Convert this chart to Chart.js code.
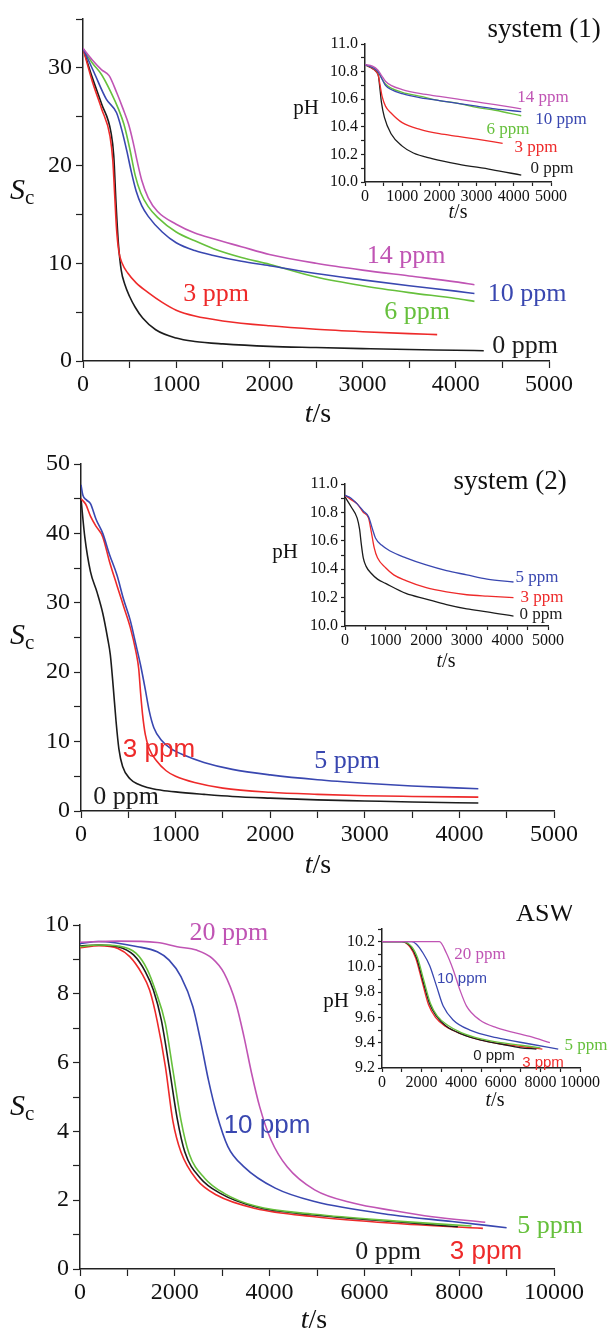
<!DOCTYPE html>
<html>
<head>
<meta charset="utf-8">
<script src="https://cdn.jsdelivr.net/npm/chart.js@4.4.1/dist/chart.umd.min.js"></script>
<style>
html, body { margin: 0; padding: 0; background: #fff; }
#page { position: relative; width: 613px; height: 1331px; overflow: hidden; background: #fff; }
#page canvas { position: absolute; }
</style>
</head>
<body>
<div id="page"></div>
<script>
// ---- system (1): Sc vs t/s, points are [t, Sc]
const s1_0ppm = [[0,32],[100,29],[200,26.3],[300,23.4],[330,21],[355,16],[380,12],[410,9.3],[450,7.8],[500,6.6],[560,5.5],[640,4.4],[780,3.2],[1000,2.35],[1200,2.0],[1500,1.75],[2000,1.5],[2500,1.38],[3000,1.27],[3500,1.17],[4000,1.1],[4300,1.05]];
const s1_3ppm = [[0,32],[100,28.6],[200,25.8],[290,23],[320,20.5],[340,17],[360,13.5],[385,11.2],[420,10],[480,9.0],[570,8.0],[700,7.0],[850,6.0],[1000,5.2],[1200,4.6],[1500,4.1],[2000,3.6],[2500,3.25],[3000,3.0],[3500,2.8],[3800,2.7]];
const s1_6ppm = [[0,32],[100,30.5],[200,29.3],[300,27.5],[380,25.8],[440,24.2],[500,21.8],[560,19],[620,17.2],[700,15.8],[800,14.7],[1000,13.2],[1200,12.3],[1400,11.5],[1700,10.6],[2000,9.9],[2500,8.6],[3000,7.7],[3500,7.0],[4000,6.4],[4200,6.1]];
const s1_10ppm = [[0,32],[120,29.5],[250,26.8],[360,25.4],[420,23.5],[470,21.5],[520,19.3],[570,17.4],[630,15.9],[700,14.8],[850,13.2],[1000,12.1],[1200,11.3],[1400,10.8],[1700,10.2],[2000,9.75],[2500,8.95],[3000,8.3],[3500,7.7],[4000,7.15],[4200,6.9]];
const s1_14ppm = [[0,32],[100,30.8],[200,29.8],[280,29.2],[360,27.5],[430,25.8],[490,24.2],[540,22.3],[580,20.5],[630,18.5],[700,16.7],[800,15.3],[1000,14.0],[1200,13.1],[1400,12.5],[1700,11.7],[2000,10.9],[2500,10.0],[3000,9.3],[3500,8.7],[4000,8.1],[4200,7.8]];

// system (1) inset: pH vs t/s
const ph1_0ppm = [[0,10.85],[150,10.83],[300,10.8],[360,10.77],[400,10.68],[440,10.58],[520,10.47],[700,10.35],[1000,10.26],[1300,10.21],[1800,10.17],[2500,10.13],[3400,10.09],[4200,10.05]];
const ph1_3ppm = [[0,10.85],[150,10.83],[300,10.8],[360,10.77],[400,10.71],[460,10.62],[550,10.55],[700,10.5],[1000,10.43],[1500,10.38],[2000,10.35],[2500,10.33],[3000,10.31],[3700,10.28]];
const ph1_6ppm = [[0,10.85],[200,10.83],[350,10.8],[450,10.75],[550,10.71],[700,10.68],[1000,10.65],[1500,10.62],[2000,10.59],[2500,10.57],[3000,10.54],[3500,10.52],[4200,10.48]];
const ph1_10ppm = [[0,10.85],[200,10.83],[350,10.8],[450,10.75],[550,10.7],[700,10.67],[1000,10.64],[1500,10.61],[2000,10.59],[2500,10.57],[3000,10.55],[3500,10.53],[4200,10.51]];
const ph1_14ppm = [[0,10.85],[200,10.84],[350,10.81],[450,10.77],[550,10.73],[700,10.7],[1000,10.67],[1500,10.64],[2000,10.62],[2500,10.6],[3000,10.58],[3500,10.56],[4200,10.53]];

// ---- system (2): Sc vs t/s
const s2_0ppm = [[0,45],[40,39.5],[100,34.5],[170,31.5],[230,28.5],[280,25],[310,22.5],[340,18],[370,13],[400,9],[440,6.4],[520,4.6],[600,3.9],[700,3.4],[850,3.0],[1000,2.75],[1300,2.4],[1600,2.1],[2000,1.85],[2500,1.6],[3000,1.45],[3500,1.3],[4200,1.15]];
const s2_3ppm = [[0,45],[50,44.2],[100,42.5],[160,41],[230,39.5],[300,36],[380,32.5],[450,29.5],[520,26.5],[580,23],[610,20.5],[630,17],[650,14],[680,11],[720,9],[800,7.2],[900,5.8],[1000,5.0],[1200,4.1],[1500,3.3],[2000,2.7],[2500,2.4],[3000,2.2],[3500,2.1],[4200,2.0]];
const s2_5ppm = [[0,47],[20,45.5],[60,44.8],[100,44.3],[160,42],[230,40],[300,37],[380,34],[450,30.5],[520,27.5],[580,24],[630,21],[680,17.5],[720,14.5],[770,12],[850,10.2],[950,9.0],[1100,8.0],[1300,7.0],[1600,6.0],[2000,5.2],[2500,4.5],[3000,4.0],[3500,3.6],[4200,3.2]];

// system (2) inset: pH vs t/s
const ph2_0ppm = [[0,10.91],[150,10.84],[300,10.76],[360,10.68],[400,10.58],[450,10.48],[520,10.42],[650,10.37],[800,10.33],[1000,10.3],[1500,10.23],[2000,10.19],[2500,10.15],[3000,10.12],[3500,10.1],[4150,10.07]];
const ph2_3ppm = [[0,10.92],[150,10.89],[300,10.86],[450,10.8],[580,10.76],[650,10.66],[720,10.55],[800,10.48],[1000,10.41],[1200,10.36],[1500,10.32],[2000,10.27],[2500,10.24],[3000,10.22],[3500,10.21],[4150,10.2]];
const ph2_5ppm = [[0,10.92],[150,10.9],[300,10.86],[450,10.81],[580,10.77],[680,10.68],[750,10.62],[900,10.57],[1100,10.53],[1500,10.48],[2000,10.43],[2500,10.39],[3000,10.36],[3500,10.33],[4150,10.31]];

// ---- ASW: Sc vs t/s
const s3_0ppm = [[0,9.39],[400,9.42],[800,9.37],[1130,9.13],[1380,8.64],[1550,8.1],[1715,7.24],[1880,5.88],[2050,4.38],[2210,3.41],[2540,2.64],[2960,2.2],[3700,1.81],[4950,1.57],[6600,1.38],[7970,1.23]];
const s3_3ppm = [[0,9.34],[400,9.4],[800,9.32],[1050,9.08],[1300,8.6],[1470,8.1],[1630,7.2],[1800,5.9],[1960,4.3],[2130,3.4],[2460,2.6],[2880,2.15],[3700,1.76],[4950,1.52],[6600,1.33],[8500,1.18]];
const s3_5ppm = [[0,9.37],[400,9.42],[800,9.39],[1180,9.18],[1425,8.69],[1590,8.1],[1800,7.14],[1960,5.78],[2130,4.33],[2300,3.36],[2630,2.64],[3040,2.2],[3700,1.83],[4950,1.59],[6600,1.4],[8260,1.25]];
const s3_10ppm = [[0,9.46],[390,9.52],[1220,9.37],[1630,9.22],[1880,8.98],[2130,8.5],[2380,7.63],[2540,6.66],[2710,5.49],[2880,4.53],[3120,3.56],[3460,2.97],[4120,2.35],[4950,1.96],[6600,1.57],[7850,1.38],[9000,1.2]];
const s3_20ppm = [[0,9.5],[800,9.53],[1630,9.49],[2050,9.37],[2460,9.27],[2790,9.03],[3040,8.6],[3290,7.72],[3460,6.75],[3620,5.69],[3790,4.72],[4030,3.75],[4370,2.97],[4950,2.3],[5780,1.91],[6600,1.7],[7430,1.52],[8550,1.36]];

// ASW inset: pH vs t/s
const ph3_0ppm = [[0,10.2],[1000,10.2],[1450,10.16],[1750,10.07],[2050,9.9],[2400,9.71],[2750,9.61],[3250,9.53],[4000,9.47],[5000,9.42],[6000,9.39],[7000,9.36],[7800,9.35]];
const ph3_3ppm = [[0,10.2],[1000,10.2],[1400,10.16],[1700,10.07],[2000,9.9],[2350,9.7],[2700,9.6],[3200,9.53],[4000,9.47],[5000,9.42],[6000,9.39],[7000,9.37],[8100,9.35]];
const ph3_5ppm = [[0,10.2],[1000,10.2],[1500,10.16],[1800,10.07],[2100,9.9],[2450,9.71],[2800,9.61],[3300,9.54],[4000,9.48],[5000,9.43],[6000,9.4],[7000,9.38],[8000,9.36]];
const ph3_10ppm = [[0,10.2],[1500,10.2],[1740,10.18],[2070,10.11],[2410,10.01],[2750,9.85],[3090,9.69],[3590,9.58],[4440,9.5],[5780,9.44],[7470,9.39],[8900,9.35]];
const ph3_20ppm = [[0,10.2],[2900,10.2],[3250,10.11],[3590,9.98],[3930,9.82],[4270,9.69],[4940,9.58],[5780,9.52],[7470,9.45],[8480,9.4]];

// colours
const BLACK = '#1c1c1c', RED = '#ee2a2a', GREEN = '#66c03c', BLUE = '#3947b0', MAGENTA = '#c054b4';
const AXIS = '#222';
const SERIF = "'Liberation Serif', 'Times New Roman', serif";
const SANS = "'Liberation Sans', Arial, sans-serif";

Chart.defaults.font.family = SERIF;
Chart.defaults.color = '#111';

const page = document.getElementById('page');

function f(size, fam, style) {
  return (style ? style + ' ' : '') + size + 'px ' + fam;
}

function tickCb(every, digits) {
  return function (v) {
    const r = v / every;
    return Math.abs(r - Math.round(r)) < 1e-6 ? v.toFixed(digits) : '';
  };
}

function axis(min, max, step, every, digits, size, tickLen, pad, fit, isX) {
  return {
    type: 'linear', min: min, max: max,
    grid: { drawOnChartArea: false, drawTicks: true, tickLength: tickLen, tickColor: AXIS, tickWidth: 1.2 },
    border: { display: true, color: AXIS, width: 1.5 },
    ticks: {
      stepSize: step, maxTicksLimit: 200, autoSkip: false, maxRotation: 0, minRotation: 0,
      padding: pad, color: '#111', font: { size: size, family: SERIF },
      callback: tickCb(every, digits)
    },
    afterFit: function (s) { if (isX) s.height = fit; else s.width = fit; }
  };
}

// marks: text at data coords, texts: runs of text at page coords
function annot(marks, texts, ox, oy) {
  return {
    id: 'annot',
    afterDraw(chart) {
      const ctx = chart.ctx, xs = chart.scales.x, ys = chart.scales.y;
      ctx.save();
      ctx.textBaseline = 'middle';
      marks.forEach(m => {
        ctx.font = m.font; ctx.fillStyle = m.color; ctx.textAlign = 'center';
        ctx.fillText(m.text, xs.getPixelForValue(m.x), ys.getPixelForValue(m.y));
      });
      texts.forEach(t => {
        let w = 0;
        t.parts.forEach(p => { ctx.font = p.font; w += ctx.measureText(p.s).width; });
        let x = (t.align === 'left' ? t.x : t.x - w / 2) - ox;
        ctx.textAlign = 'left';
        t.parts.forEach(p => {
          ctx.font = p.font; ctx.fillStyle = '#111';
          ctx.fillText(p.s, x, t.y - oy + (p.dy || 0));
          x += ctx.measureText(p.s).width;
        });
      });
      ctx.restore();
    }
  };
}

function drawPanel(p) {
  const c = document.createElement('canvas');
  const L = p.plot.x0 - p.pad.l, T = p.plot.y0 - p.pad.t;
  const W = p.plot.x1 - p.plot.x0 + p.pad.l + p.pad.r;
  const H = p.plot.y1 - p.plot.y0 + p.pad.t + p.pad.b;
  c.width = W; c.height = H;
  c.style.left = L + 'px'; c.style.top = T + 'px';
  c.style.width = W + 'px'; c.style.height = H + 'px';
  page.appendChild(c);
  new Chart(c, {
    type: 'line',
    data: {
      datasets: p.series.map(s => ({
        data: s.pts.map(q => ({ x: q[0], y: q[1] })),
        borderColor: s.color, borderWidth: p.lineW, pointRadius: 0,
        cubicInterpolationMode: 'monotone', fill: false
      }))
    },
    options: {
      responsive: false, animation: false, devicePixelRatio: 1,
      layout: { padding: { left: p.pad.l - p.fit.y, top: p.pad.t, right: p.pad.r, bottom: p.pad.b - p.fit.x } },
      plugins: { legend: { display: false }, tooltip: { enabled: false } },
      scales: {
        x: axis(0, p.xMax, p.xStep, p.xEvery, 0, p.tickSize, p.tickLen, p.xPad, p.fit.x, true),
        y: axis(p.yMin, p.yMax, p.yStep, p.yEvery, p.yDigits, p.tickSize, p.tickLen, p.yPad, p.fit.y, false)
      }
    },
    plugins: [annot(p.marks, p.texts, L, T)]
  });
}

function scTitle(y) {
  return { x: 10, y: y, align: 'left', parts: [{ s: 'S', font: f(30, SERIF, 'italic') }, { s: 'c', font: f(21, SERIF), dy: 7 }] };
}
function tTitle(x, y, size) {
  return { x: x, y: y, parts: [{ s: 't', font: f(size, SERIF, 'italic') }, { s: '/s', font: f(size, SERIF) }] };
}

const MAIN_PAD = { l: 75, t: 20, r: 65, b: 65 }, MAIN_FIT = { y: 65, x: 55 };
const IN_PAD = { l: 90, t: 20, r: 50, b: 50 }, IN_FIT = { y: 55, x: 35 };
const LBL = 26, ILBL = 17, ITICK = 16;

// system (1)
drawPanel({
  plot: { x0: 83, x1: 549, y0: 19, y1: 361 }, pad: MAIN_PAD, fit: MAIN_FIT,
  xMax: 5000, xStep: 500, xEvery: 1000, yMin: 0, yMax: 35, yStep: 5, yEvery: 10, yDigits: 0,
  tickSize: 24, tickLen: 7, xPad: 2, yPad: 4, lineW: 1.6,
  series: [
    { pts: s1_14ppm, color: MAGENTA }, { pts: s1_10ppm, color: BLUE }, { pts: s1_6ppm, color: GREEN },
    { pts: s1_3ppm, color: RED }, { pts: s1_0ppm, color: BLACK }
  ],
  marks: [
    { text: '14 ppm', x: 3466, y: 10.75, color: MAGENTA, font: f(LBL, SERIF) },
    { text: '10 ppm', x: 4764, y: 6.86, color: BLUE, font: f(LBL, SERIF) },
    { text: '6 ppm', x: 3584, y: 5.01, color: GREEN, font: f(LBL, SERIF) },
    { text: '3 ppm', x: 1427, y: 6.86, color: RED, font: f(LBL, SERIF) },
    { text: '0 ppm', x: 4743, y: 1.54, color: BLACK, font: f(LBL, SERIF) }
  ],
  texts: [
    { x: 544, y: 30, parts: [{ s: 'system (1)', font: f(27, SERIF) }] },
    scTitle(191), tTitle(318, 415, 28)
  ]
});
drawPanel({
  plot: { x0: 365, x1: 551, y0: 44, y1: 182 }, pad: IN_PAD, fit: IN_FIT,
  xMax: 5000, xStep: 500, xEvery: 1000, yMin: 10, yMax: 11, yStep: 0.1, yEvery: 0.2, yDigits: 1,
  tickSize: ITICK, tickLen: 4, xPad: 1, yPad: 3, lineW: 1.3,
  series: [
    { pts: ph1_14ppm, color: MAGENTA }, { pts: ph1_10ppm, color: BLUE }, { pts: ph1_6ppm, color: GREEN },
    { pts: ph1_3ppm, color: RED }, { pts: ph1_0ppm, color: BLACK }
  ],
  marks: [
    { text: '14 ppm', x: 4785, y: 10.61, color: MAGENTA, font: f(ILBL, SERIF) },
    { text: '10 ppm', x: 5269, y: 10.45, color: BLUE, font: f(ILBL, SERIF) },
    { text: '6 ppm', x: 3844, y: 10.38, color: GREEN, font: f(ILBL, SERIF) },
    { text: '3 ppm', x: 4597, y: 10.25, color: RED, font: f(ILBL, SERIF) },
    { text: '0 ppm', x: 5027, y: 10.10, color: BLACK, font: f(ILBL, SERIF) }
  ],
  texts: [
    { x: 306, y: 108, parts: [{ s: 'pH', font: f(21, SERIF) }] },
    tTitle(458, 213, 20)
  ]
});

// system (2)
drawPanel({
  plot: { x0: 81, x1: 554, y0: 464, y1: 811 }, pad: MAIN_PAD, fit: MAIN_FIT,
  xMax: 5000, xStep: 500, xEvery: 1000, yMin: 0, yMax: 50, yStep: 5, yEvery: 10, yDigits: 0,
  tickSize: 24, tickLen: 7, xPad: 2, yPad: 4, lineW: 1.6,
  series: [
    { pts: s2_5ppm, color: BLUE }, { pts: s2_3ppm, color: RED }, { pts: s2_0ppm, color: BLACK }
  ],
  marks: [
    { text: '3 ppm', x: 824, y: 8.8, color: RED, font: f(LBL, SANS) },
    { text: '5 ppm', x: 2812, y: 7.2, color: BLUE, font: f(LBL, SERIF) },
    { text: '0 ppm', x: 476, y: 2.0, color: BLACK, font: f(LBL, SERIF) }
  ],
  texts: [
    { x: 510, y: 482, parts: [{ s: 'system (2)', font: f(27, SERIF) }] },
    scTitle(636), tTitle(318, 866, 28)
  ]
});
drawPanel({
  plot: { x0: 345, x1: 548, y0: 484, y1: 626 }, pad: IN_PAD, fit: IN_FIT,
  xMax: 5000, xStep: 500, xEvery: 1000, yMin: 10, yMax: 11, yStep: 0.1, yEvery: 0.2, yDigits: 1,
  tickSize: ITICK, tickLen: 4, xPad: 1, yPad: 3, lineW: 1.3,
  series: [
    { pts: ph2_5ppm, color: BLUE }, { pts: ph2_3ppm, color: RED }, { pts: ph2_0ppm, color: BLACK }
  ],
  marks: [
    { text: '5 ppm', x: 4729, y: 10.34, color: BLUE, font: f(ILBL, SERIF) },
    { text: '3 ppm', x: 4852, y: 10.20, color: RED, font: f(ILBL, SERIF) },
    { text: '0 ppm', x: 4828, y: 10.08, color: BLACK, font: f(ILBL, SERIF) }
  ],
  texts: [
    { x: 285, y: 552, parts: [{ s: 'pH', font: f(21, SERIF) }] },
    tTitle(446, 662, 20)
  ]
});

// ASW
drawPanel({
  plot: { x0: 80, x1: 554, y0: 925, y1: 1269 }, pad: { l: 75, t: 20, r: 50, b: 62 }, fit: MAIN_FIT,
  xMax: 10000, xStep: 1000, xEvery: 2000, yMin: 0, yMax: 10, yStep: 1, yEvery: 2, yDigits: 0,
  tickSize: 24, tickLen: 7, xPad: 2, yPad: 4, lineW: 1.6,
  series: [
    { pts: s3_20ppm, color: MAGENTA }, { pts: s3_10ppm, color: BLUE }, { pts: s3_5ppm, color: GREEN },
    { pts: s3_0ppm, color: BLACK }, { pts: s3_3ppm, color: RED }
  ],
  marks: [
    { text: '20 ppm', x: 3143, y: 9.77, color: MAGENTA, font: f(LBL, SERIF) },
    { text: '10 ppm', x: 3945, y: 4.16, color: BLUE, font: f(LBL, SANS) },
    { text: '5 ppm', x: 9916, y: 1.25, color: GREEN, font: f(LBL, SERIF) },
    { text: '0 ppm', x: 6498, y: 0.49, color: BLACK, font: f(LBL, SERIF) },
    { text: '3 ppm', x: 8565, y: 0.49, color: RED, font: f(LBL, SANS) }
  ],
  texts: [
    { x: 545, y: 914, parts: [{ s: 'ASW', font: f(26, SERIF) }] },
    scTitle(1107), tTitle(314, 1321, 28)
  ]
});
drawPanel({
  plot: { x0: 382, x1: 580, y0: 929, y1: 1068 }, pad: IN_PAD, fit: IN_FIT,
  xMax: 10000, xStep: 1000, xEvery: 2000, yMin: 9.2, yMax: 10.3, yStep: 0.1, yEvery: 0.2, yDigits: 1,
  tickSize: ITICK, tickLen: 4, xPad: 1, yPad: 3, lineW: 1.3,
  series: [
    { pts: ph3_20ppm, color: MAGENTA }, { pts: ph3_10ppm, color: BLUE }, { pts: ph3_5ppm, color: GREEN },
    { pts: ph3_0ppm, color: BLACK }, { pts: ph3_3ppm, color: RED }
  ],
  marks: [
    { text: '20 ppm', x: 4949, y: 10.10, color: MAGENTA, font: f(ILBL, SERIF) },
    { text: '10 ppm', x: 4040, y: 9.906, color: BLUE, font: f(15, SANS) },
    { text: '5 ppm', x: 10303, y: 9.38, color: GREEN, font: f(ILBL, SERIF) },
    { text: '0 ppm', x: 5657, y: 9.30, color: BLACK, font: f(15, SANS) },
    { text: '3 ppm', x: 8131, y: 9.24, color: RED, font: f(15, SANS) }
  ],
  texts: [
    { x: 336, y: 1001, parts: [{ s: 'pH', font: f(21, SERIF) }] },
    tTitle(495, 1101, 20)
  ]
});
</script>
</body>
</html>
